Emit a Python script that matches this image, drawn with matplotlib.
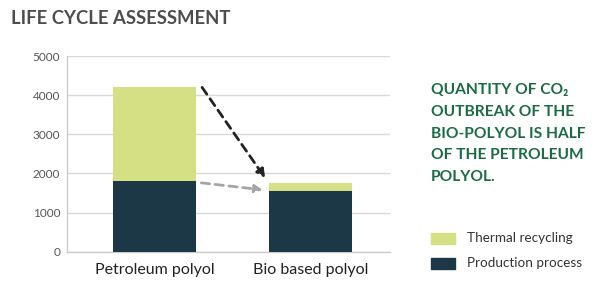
import matplotlib
matplotlib.use("Agg")
import matplotlib.pyplot as plt
from matplotlib.patches import Rectangle

categories = ["Petroleum polyol", "Bio based polyol"]
production = [1800, 1540]
thermal = [2400, 210]
series_names = ["Thermal recycling", "Production process"]
yticks = [0, 1000, 2000, 3000, 4000, 5000]

c_thermal = "#d5df84"
c_prod = "#1c3746"
c_green = "#1b6b45"

plt.rcParams['font.family'] = ['Lato', 'DejaVu Sans']

fig = plt.figure(figsize=(6, 2.92), dpi=100)
ax = fig.add_axes([0.112, 0.138, 0.538, 0.670])

x = list(range(len(categories)))
w = 0.53
ax.bar(x, production, width=w, color=c_prod, zorder=3)
ax.bar(x, thermal, width=w, bottom=production, color=c_thermal, zorder=3)

ax.set_xlim(-0.56, 1.51)
ax.set_ylim(0, 5000)
ax.set_yticks(yticks)
ax.set_yticklabels([str(v) for v in yticks], color="#555555", fontsize=8.5)
ax.set_xticks(x)
ax.set_xticklabels(categories, fontsize=11.5, color="#222222")
ax.tick_params(axis="both", length=0)
ax.tick_params(axis="y", pad=5)
ax.tick_params(axis="x", pad=8)
ax.yaxis.grid(True, color="#d8d8d8", linewidth=1, zorder=0)
for s in ["top", "right"]:
    ax.spines[s].set_visible(False)
for s in ["left", "bottom"]:
    ax.spines[s].set_color("#cccccc")
    ax.spines[s].set_linewidth(1)

tot = [p + t for p, t in zip(production, thermal)]
# arrows
ax.annotate("", xy=(1 - w / 2 - 0.025, tot[1] + 130), xytext=(w / 2 + 0.04, tot[0]),
            arrowprops=dict(arrowstyle="-|>,head_length=0.5,head_width=0.25", linestyle=(0, (3, 2)),
                            color="#222222", lw=2, shrinkA=0, shrinkB=0), zorder=4)
ax.annotate("", xy=(1 - w / 2 - 0.04, production[1] + 40), xytext=(w / 2 + 0.035, production[0] - 40),
            arrowprops=dict(arrowstyle="-|>,head_length=0.45,head_width=0.22", linestyle=(0, (3, 2)),
                            color="#a5a5a5", lw=2, shrinkA=0, shrinkB=0), zorder=4)

fig.text(0.018, 0.937, "LIFE CYCLE ASSESSMENT", fontsize=13.3, fontweight="bold",
         color="#4d4d4d", ha="left", va="center")

lines = ["QUANTITY OF CO₂", "OUTBREAK OF THE", "BIO-POLYOL IS HALF", "OF THE PETROLEUM", "POLYOL."]
for i, ln in enumerate(lines):
    fig.text(0.718, 1 - (90 + 21.8 * i) / 292, ln, fontsize=11.2, fontweight="bold",
             color=c_green, ha="left", va="center")

for i, (name, col) in enumerate(zip(series_names, [c_thermal, c_prod])):
    yc = 1 - (238 + 25 * i) / 292
    fig.patches.append(Rectangle((431 / 600, yc - 5.5 / 292), 24 / 600, 11 / 292,
                                 transform=fig.transFigure, color=col, figure=fig))
    fig.text(467 / 600, yc, name, fontsize=9.7, color="#333333", ha="left", va="center")

fig.savefig("out.png", dpi=100)
